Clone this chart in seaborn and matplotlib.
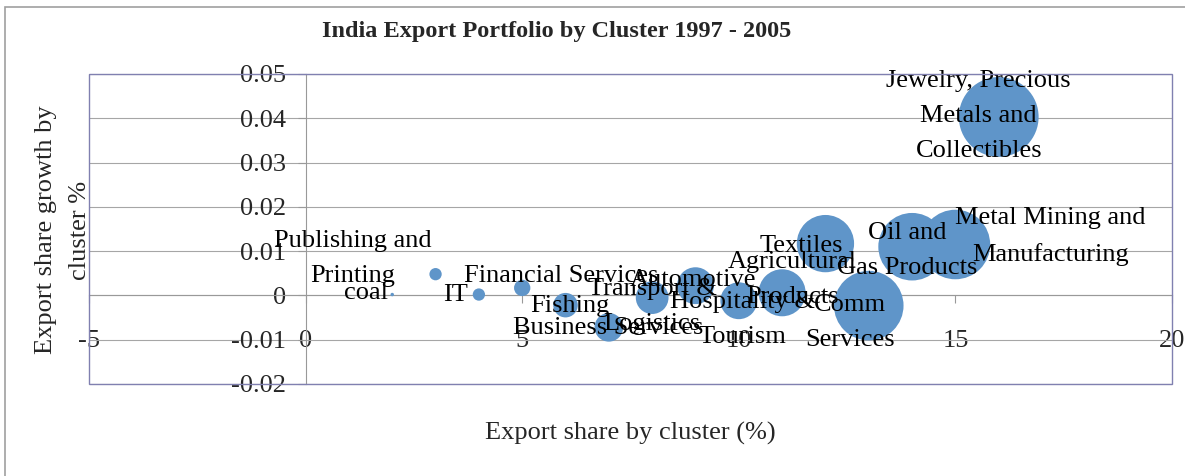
import matplotlib
matplotlib.use("Agg")
import matplotlib.pyplot as plt
from matplotlib.patches import Rectangle
from matplotlib.ticker import FuncFormatter
import seaborn as sns
import pandas as pd

sns.set_theme(style="white")
plt.rcParams["font.family"] = ["Liberation Serif", "DejaVu Serif"]
plt.rcParams["axes.unicode_minus"] = False

# clusters
clusters = ["coal", "Publishing and\nPrinting", "IT", "Financial Services", "Fishing",
            "Business Services", "Transport &\nLogistics", "Automotive",
            "Hospitality &\nTourism", "Agricultural\nProducts", "Textiles",
            "Comm\nServices", "Oil and\nGas Products", "Metal Mining and\nManufacturing",
            "Jewelry, Precious\nMetals and\nCollectibles"]
xVals = [2, 3, 4, 5, 6, 7, 8, 9, 10, 11, 12, 13, 14, 15, 16]
growth = [0.0002, 0.0048, 0.0002, 0.0017, -0.0022, -0.0072, -0.0005, 0.0022,
          -0.0012, 0.0006, 0.0117, -0.0023, 0.0110, 0.0115, 0.0403]
share = [0.03, 0.38, 0.38, 0.67, 1.51, 2.06, 2.69, 3.41, 3.41, 5.56, 8.25,
         12.16, 11.46, 12.16, 16.0]

# label offsets from bubble centre, in pixels (right, down)
labelOffsets = [(-26, -2), (-83, -16), (-23, 0), (39, -12), (4, 1), (-1, 1), (0, 9),
                (-2, -6), (4, 19), (10, -13), (-24, 2), (-19, 17), (-5, 4), (95, -8),
                (-20, -1)]

data = pd.DataFrame({"Cluster": clusters, "X": xVals, "Growth": growth, "Share": share})

fig = plt.figure(figsize=(11.85, 4.76), dpi=100)
ax = fig.add_axes([89 / 1185, 1 - 384 / 476, 1083 / 1185, 310 / 476])

sns.scatterplot(data=data, x="X", y="Growth", size="Share", sizes=(0, 3300),
                size_norm=(0, 16), color="#5F95C9", edgecolor="none", linewidth=0,
                alpha=1, legend=False, ax=ax, zorder=3)

for i, row in data.iterrows():
    dx, dy = labelOffsets[i]
    ax.annotate(row["Cluster"], (row["X"], row["Growth"]), xytext=(dx * 0.72, -dy * 0.72),
                textcoords="offset points", ha="center", va="center", multialignment="center",
                fontsize=19, linespacing=1.75, color="black", zorder=5)

ax.set_xlim(-5, 20)
ax.set_ylim(-0.02, 0.05)
ax.set_xticks([-5, 0, 5, 10, 15, 20])
ax.set_yticks([-0.02, -0.01, 0, 0.01, 0.02, 0.03, 0.04, 0.05])
ax.xaxis.set_major_formatter(FuncFormatter(lambda v, p: f"{v:g}"))
ax.yaxis.set_major_formatter(FuncFormatter(lambda v, p: f"{round(v, 2):g}"))
ax.set_xlabel("")
ax.set_ylabel("")

ax.yaxis.grid(True, color="#A6A6A6", linewidth=0.8)
ax.xaxis.grid(False)

for side in ["top", "right"]:
    ax.spines[side].set_visible(False)
for side in ["left", "bottom"]:
    ax.spines[side].set_position(("data", 0))
    ax.spines[side].set_color("#999999")
    ax.spines[side].set_linewidth(0.8)
    ax.spines[side].set_zorder(2)

ax.tick_params(axis="x", direction="out", length=5.8, width=0.8, color="#999999",
               pad=19, labelsize=19, bottom=True)
ax.tick_params(axis="y", direction="out", length=5.8, width=0.8, color="#999999",
               pad=8, labelsize=19, left=True)

ax.add_patch(Rectangle((0, 0), 1, 1, transform=ax.transAxes, fill=False,
                       edgecolor="#8080B0", linewidth=1, clip_on=False, zorder=6))

fig.patches.append(Rectangle((5 / 1185, -0.1), 1.2, 1 - 7 / 476 + 0.1, transform=fig.transFigure,
                             fill=False, edgecolor="#A0A0A0", linewidth=1.2))

fig.text(557 / 1185, 1 - 32 / 476, "India Export Portfolio by Cluster 1997 - 2005",
         ha="center", va="center", fontsize=17.5, fontweight="bold")
fig.text(630 / 1185, 1 - 433 / 476, "Export share by cluster (%)",
         ha="center", va="center", fontsize=19)
fig.text(63 / 1185, 1 - 230 / 476, "Export share growth by\ncluster %", rotation=90,
         ha="center", va="center", multialignment="center", fontsize=19, linespacing=1.7)

fig.savefig("out.png", dpi=100)
